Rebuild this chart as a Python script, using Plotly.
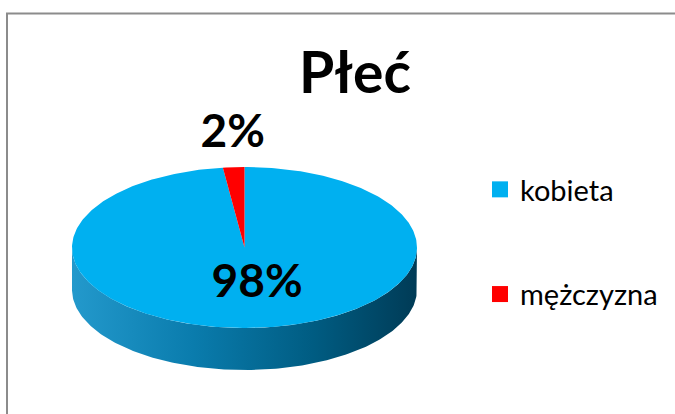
import numpy as np
import plotly.graph_objects as go

# ---- data ----
title_text = "Płeć"
categories = ["kobieta", "mężczyzna"]
values = [98, 2]
colors = ["#00B0F0", "#FF0000"]

# ---- geometry / style (pixel-like plot units) ----
W, H = 675, 414
cx, cy = 244.5, 247.5       # centre of the top face
ra, rb = 172.5, 80.5        # half-axes of the top face
depth = 42                  # thickness of the 3D side
label_r = [0.42, 1.46]      # radial position of labels (fraction of radius)
label_dx = [8, 4]           # small nudges of the labels (px)
label_dy = [4, 5]

total = float(sum(values))
fracs = [v / total for v in values]

fig = go.Figure()

# side of the 3-D pie (front half)
t = np.linspace(np.pi, 2 * np.pi, 200)
xs_top = cx + ra * np.cos(t)
ys_top = cy - rb * np.sin(t)
side_x = np.concatenate([xs_top, xs_top[::-1]])
side_y = np.concatenate([ys_top, ys_top[::-1] + depth])
fig.add_trace(go.Scatter(
    x=side_x, y=side_y, mode="lines", fill="toself",
    line=dict(width=0, color="rgba(0,0,0,0)"),
    fillgradient=dict(type="horizontal",
                      colorscale=[[0, "#2399CC"], [0.35, "#0A7CAD"],
                                  [0.7, "#005C82"], [1, "#003B56"]]),
    hoverinfo="skip", showlegend=False))

# top-face slices
start = np.pi / 2
mids = []
for cat, f, col in zip(categories, fracs, colors):
    end = start - 2 * np.pi * f
    tt = np.linspace(start, end, max(int(400 * f), 8))
    px = np.concatenate([[cx], cx + ra * np.cos(tt), [cx]])
    py = np.concatenate([[cy], cy - rb * np.sin(tt), [cy]])
    fig.add_trace(go.Scatter(
        x=px, y=py, mode="lines", fill="toself", fillcolor=col,
        line=dict(width=0, color=col), name=cat,
        hoverinfo="name", showlegend=False))
    mids.append((start + end) / 2)
    start = end

# data labels
lx = [cx + ra * r * np.cos(m) + dx for r, m, dx in zip(label_r, mids, label_dx)]
ly = [cy - rb * r * np.sin(m) + dy for r, m, dy in zip(label_r, mids, label_dy)]
fig.add_trace(go.Scatter(
    x=lx, y=ly, mode="text",
    text=[f"{round(f * 100)}%" for f in fracs],
    textposition="middle center",
    textfont=dict(family="Lato", size=46, color="black", weight="bold"),
    hoverinfo="skip", showlegend=False))

# legend entries
for i, (cat, col) in enumerate(zip(categories, colors)):
    fig.add_trace(go.Scatter(
        x=[None], y=[None], mode="markers", name=cat,
        legendgroup=f"g{i}",
        marker=dict(symbol="square", size=18, color=col)))

fig.update_layout(
    width=W, height=H,
    margin=dict(l=0, r=0, t=0, b=0),
    paper_bgcolor="white", plot_bgcolor="white",
    title=dict(text=title_text, x=355 / W, xanchor="center",
               y=1 - 73 / H, yanchor="middle", yref="container",
               font=dict(family="Lato", size=57, color="black",
                         weight="bold")),
    xaxis=dict(range=[0, W], visible=False, fixedrange=True),
    yaxis=dict(range=[H, 0], visible=False, fixedrange=True),
    legend=dict(x=480 / W, xanchor="left", y=1 - 164 / H, yanchor="top",
                font=dict(family="Lato", size=29, color="black"),
                tracegroupgap=64, bgcolor="rgba(0,0,0,0)",
                itemclick=False, itemdoubleclick=False),
    shapes=[dict(type="rect", xref="paper", yref="paper",
                 x0=7 / W, x1=1 + 10 / W, y0=-10 / H, y1=1 - 13.5 / H,
                 line=dict(color="#8C8C8C", width=2),
                 fillcolor="rgba(0,0,0,0)", layer="below")],
)

fig.write_html(
    "out.html",
    config={"displayModeBar": False},
    post_script="document.body.style.margin='0px';"
                "document.body.style.overflow='hidden';")
